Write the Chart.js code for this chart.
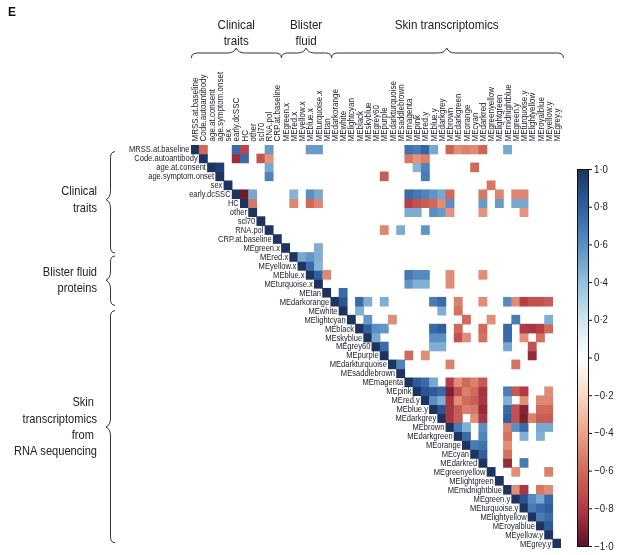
<!DOCTYPE html>
<html>
<head>
<meta charset="utf-8">
<script src="https://cdn.jsdelivr.net/npm/chart.js@4"></script>
<style>
  html, body { margin: 0; padding: 0; background: #fff; }
  #wrap { width: 630px; height: 555px; position: relative; }
</style>
</head>
<body>
<div id="wrap"><canvas id="grafik" width="630" height="555"></canvas></div>
<script>
// nama variabel (baris & kolom)
const varNames = [
    'MRSS.at.baseline', 'Code.autoantibody', 'age.at.consent', 'age.symptom.onset', 'sex',
    'early.dcSSC', 'HC', 'other', 'scl70', 'RNA.pol', 'CRP.at.baseline',
    'MEgreen.x', 'MEred.x', 'MEyellow.x', 'MEblue.x', 'MEturquoise.x',
    'MEtan', 'MEdarkorange', 'MEwhite', 'MElightcyan', 'MEblack', 'MEskyblue', 'MEgrey60',
    'MEpurple', 'MEdarkturquoise', 'MEsaddlebrown', 'MEmagenta', 'MEpink', 'MEred.y',
    'MEblue.y', 'MEdarkgrey', 'MEbrown', 'MEdarkgreen', 'MEorange', 'MEcyan', 'MEdarkred',
    'MEgreenyellow', 'MElightgreen', 'MEmidnightblue', 'MEgreen.y', 'MEturquoise.y',
    'MElightyellow', 'MEroyalblue', 'MEyellow.y', 'MEgrey.y'
];

// kelompok: [label, mulai, akhir, ujung] dalam satuan indeks
const topGroups = [
    ['Clinical\ntraits', 0.05, 11.0, 5.5],
    ['Blister\nfluid', 11.0, 17.1, 14.0],
    ['Skin transcriptomics', 17.1, 45.3, 31.1]
];
const leftGroups = [
    ['Clinical\ntraits', 0.75, 12.05, 6.1],
    ['Blister fluid\nproteins', 12.4, 17.9, 15.1],
    ['Skin \ntranscriptomics\nfrom \nRNA sequencing', 18.5, 44.4, 31.5]
];

const colorbarTicks = [1, 0.8, 0.6, 0.4, 0.2, 0, -0.2, -0.4, -0.6, -0.8, -1];

// sel yang signifikan: [baris, kolom, korelasi]
const sigCells = [
    [0,1,-0.6],[0,5,0.75],[0,6,-0.75],[0,9,0.55],[0,14,0.55],[0,15,0.55],[0,26,0.72],[0,27,0.68],
    [0,28,0.78],[0,29,0.5],[0,31,-0.62],[0,32,-0.47],[0,33,-0.52],[0,34,-0.48],[0,35,-0.62],[0,38,0.5],
    [1,5,-0.85],[1,6,0.75],[1,8,-0.68],[1,9,-0.45],[1,26,-0.55],[1,27,-0.45],[1,28,-0.52],
    [2,3,0.95],[2,9,0.5],[2,27,0.45],[2,28,0.65],[2,34,-0.6],
    [3,9,0.65],[3,23,-0.65],[3,28,0.68],
    [4,36,-0.55],
    [5,6,-0.95],[5,7,0.5],[5,12,0.45],[5,14,0.6],[5,15,0.5],[5,26,0.75],[5,27,0.7],[5,28,0.65],
    [5,29,0.58],[5,30,0.5],[5,31,-0.6],[5,35,-0.55],[5,37,-0.5],[5,39,-0.5],[5,40,-0.5],
    [6,7,-0.55],[6,12,-0.5],[6,14,-0.6],[6,15,-0.5],[6,26,-0.78],[6,27,-0.7],[6,28,-0.65],[6,29,-0.6],
    [6,30,-0.47],[6,31,0.6],[6,35,0.55],[6,37,0.55],[6,39,0.5],[6,40,0.5],
    [7,26,0.48],[7,27,0.48],[7,29,0.6],[7,30,0.55],[7,31,-0.45],[7,35,-0.45],[7,40,-0.45],
    [9,23,-0.5],[9,25,0.48],[9,28,0.58],
    [11,15,0.47],
    [12,13,0.5],[12,14,0.57],[12,15,0.47],
    [13,14,0.75],[13,15,0.45],
    [14,15,0.8],[14,16,-0.5],[14,26,0.7],[14,27,0.62],[14,28,0.62],[14,31,-0.47],[14,35,-0.47],
    [15,26,0.58],[15,27,0.47],[15,28,0.47],[15,31,-0.47],
    [16,18,0.75],
    [17,18,0.85],[17,20,0.75],[17,21,0.47],[17,23,0.47],[17,29,0.68],[17,30,0.75],[17,32,-0.52],
    [17,35,-0.47],[17,38,0.62],[17,39,-0.47],[17,40,-0.78],[17,41,-0.7],[17,42,-0.7],[17,43,-0.65],
    [18,20,0.47],[18,30,0.47],[18,32,-0.57],
    [19,21,0.57],[19,24,-0.47],[19,33,-0.6],[19,36,-0.47],[19,39,0.68],[19,43,0.47],
    [20,21,0.8],[20,22,0.6],[20,23,0.57],[20,29,0.75],[20,30,0.8],[20,32,-0.6],[20,35,-0.6],
    [20,38,0.75],[20,40,-0.8],[20,41,-0.82],[20,42,-0.78],[20,43,-0.6],
    [21,22,0.5],[21,29,0.6],[21,30,0.6],[21,32,-0.7],[21,33,-0.47],[21,35,-0.57],[21,38,0.75],
    [21,40,-0.47],[21,42,-0.57],
    [22,23,0.75],[22,29,0.47],[22,30,0.47],[22,38,0.5],[22,41,-0.7],
    [23,26,-0.6],[23,28,-0.47],[23,41,-0.87],
    [24,25,0.65],[24,31,-0.52],[24,39,-0.57],
    [26,27,0.82],[26,28,0.75],[26,29,0.5],[26,31,-0.78],[26,32,-0.47],[26,33,-0.6],[26,34,-0.52],[26,35,-0.67],
    [27,28,0.85],[27,29,0.82],[27,30,0.75],[27,31,-0.92],[27,32,-0.7],[27,33,-0.52],[27,34,-0.6],
    [27,35,-0.83],[27,38,0.68],[27,39,-0.67],[27,40,-0.8],[27,43,-0.47],
    [28,29,0.6],[28,30,0.47],[28,31,-0.82],[28,32,-0.47],[28,33,-0.6],[28,34,-0.65],[28,35,-0.82],
    [28,38,0.47],[28,40,-0.47],[28,42,-0.5],[28,43,-0.5],
    [29,30,0.85],[29,31,-0.82],[29,32,-0.65],[29,33,-0.52],[29,34,-0.55],[29,35,-0.87],[29,38,0.75],
    [29,39,-0.7],[29,40,-0.9],[29,42,-0.6],[29,43,-0.6],
    [30,31,-0.82],[30,32,-0.65],[30,34,-0.47],[30,35,-0.82],[30,38,0.8],[30,39,-0.7],[30,40,-0.93],
    [30,41,-0.52],[30,42,-0.65],[30,43,-0.65],
    [31,32,0.68],[31,33,0.47],[31,35,0.6],[31,38,-0.52],[31,39,0.6],[31,40,0.75],[31,42,0.5],[31,43,0.5],
    [32,33,0.75],[32,35,0.65],[32,38,-0.57],[32,40,0.47],[32,42,0.47],
    [33,34,0.68],[33,35,0.72],[33,38,-0.47],
    [34,35,0.8],[34,38,-0.57],
    [35,38,-0.87],[35,40,0.68],
    [36,39,-0.47],[36,43,-0.52],
    [38,39,-0.47],[38,40,-0.82],[38,42,-0.55],[38,43,-0.47],
    [39,40,0.85],[39,41,0.62],[39,42,0.5],[39,43,0.75],
    [40,41,0.68],[40,42,0.75],[40,43,0.8],
    [41,42,0.68],[41,43,0.75],
    [42,43,0.82]
];

// skala warna merah-biru
const colorStops = [
    [-1.0, [92, 15, 36]], [-0.8, [177, 58, 70]], [-0.6, [208, 105, 90]], [-0.4, [234, 162, 135]],
    [-0.2, [248, 216, 198]], [0, [255, 255, 255]], [0.2, [211, 229, 240]], [0.4, [148, 192, 220]],
    [0.6, [90, 143, 195]], [0.8, [47, 95, 159]], [1.0, [29, 52, 97]]
];

function warna(v) {
    for (let i = 0; i < colorStops.length - 1; i++) {
        const a = colorStops[i], b = colorStops[i + 1];
        if (v >= a[0] && v <= b[0]) {
            const t = (v - a[0]) / (b[0] - a[0]);
            const c = a[1].map((x, k) => Math.round(x + (b[1][k] - x) * t));
            return 'rgb(' + c.join(',') + ')';
        }
    }
    return v > 0 ? 'rgb(29,52,97)' : 'rgb(92,15,36)';
}

const FONT = '"Liberation Sans", Arial, sans-serif';
const SEMPIT = 0.84; // font dipersempit (mirip condensed)
const n = varNames.length;

// matriks nilai (diagonal = 1)
const matrix = varNames.map(() => Array(n).fill(null));
varNames.forEach((_, i) => { matrix[i][i] = 1; });
sigCells.forEach(([r, c, v]) => { matrix[r][c] = v; });

// satu dataset per baris, bar melayang [r, r+1]
const datasets = matrix.map((row, r) => ({
    label: varNames[r],
    data: row.map(v => v === null ? null : [r, r + 1]),
    backgroundColor: row.map(v => v === null ? 'rgba(0,0,0,0)' : warna(v)),
    borderWidth: 0,
    barPercentage: 1,
    categoryPercentage: 1,
    grouped: false
}));

function tulis(ctx, teks, x, y, sx, rot) {
    ctx.save();
    ctx.translate(x, y);
    if (rot) ctx.rotate(rot);
    ctx.scale(sx, 1);
    ctx.fillText(teks, 0, 0);
    ctx.restore();
}

function gambarKurungAtas(ctx, xa, xb, xm, y0, h) {
    ctx.beginPath();
    ctx.moveTo(xa, y0);
    ctx.quadraticCurveTo(xa, y0 - h, xa + 6, y0 - h);
    ctx.lineTo(xm - 9, y0 - h);
    ctx.quadraticCurveTo(xm - 2, y0 - h, xm, y0 - 2 * h);
    ctx.quadraticCurveTo(xm + 2, y0 - h, xm + 9, y0 - h);
    ctx.lineTo(xb - 6, y0 - h);
    ctx.quadraticCurveTo(xb, y0 - h, xb, y0);
    ctx.stroke();
}

function gambarKurungKiri(ctx, ya, yb, ym, x0, w) {
    ctx.beginPath();
    ctx.moveTo(x0, ya);
    ctx.quadraticCurveTo(x0 - w, ya, x0 - w, ya + 6);
    ctx.lineTo(x0 - w, ym - 9);
    ctx.quadraticCurveTo(x0 - w, ym - 2, x0 - 2 * w, ym);
    ctx.quadraticCurveTo(x0 - w, ym + 2, x0 - w, ym + 9);
    ctx.lineTo(x0 - w, yb - 6);
    ctx.quadraticCurveTo(x0 - w, yb, x0, yb);
    ctx.stroke();
}

const anotasiPlugin = {
    id: 'anotasi',
    afterDraw(chart) {
        const ctx = chart.ctx;
        const xs = chart.scales.x, ys = chart.scales.y;
        const cw = (xs.right - xs.left) / n;
        const colX = i => xs.left + i * cw;
        const rowY = i => ys.getPixelForValue(i);
        ctx.save();
        ctx.fillStyle = '#1c1c2a';

        // label kolom (diputar)
        ctx.font = '9.5px ' + FONT;
        ctx.textAlign = 'left';
        ctx.textBaseline = 'middle';
        varNames.forEach((nm, i) => {
            tulis(ctx, nm, xs.getPixelForValue(i) + 0.5, xs.bottom - 3.5, SEMPIT, -Math.PI / 2);
        });

        // label baris di samping diagonal
        ctx.font = '9px ' + FONT;
        ctx.textAlign = 'right';
        varNames.forEach((nm, i) => {
            tulis(ctx, nm, colX(i) - 1.5, rowY(i + 0.5) + 0.5, SEMPIT);
        });

        // kurung atas
        ctx.strokeStyle = '#333';
        ctx.lineWidth = 1;
        ctx.font = '13.5px ' + FONT;
        ctx.fillStyle = '#222';
        ctx.textAlign = 'center';
        ctx.textBaseline = 'alphabetic';
        topGroups.forEach(([lbl, a, b, m]) => {
            gambarKurungAtas(ctx, colX(a), colX(b), colX(m), 58, 5);
            lbl.split('\n').forEach((ln, k) => tulis(ctx, ln, colX(m), 29 + k * 15.5, 0.86));
        });

        // kurung kiri
        ctx.textAlign = 'right';
        ctx.textBaseline = 'middle';
        leftGroups.forEach(([lbl, a, b, m]) => {
            gambarKurungKiri(ctx, rowY(a), rowY(b), rowY(m), 115, 4.5);
            const lines = lbl.split('\n');
            const y0 = rowY(m) - (lines.length - 1) * 16.4 / 2;
            lines.forEach((ln, k) => tulis(ctx, ln, 97, y0 + k * 16.4, 0.82));
        });

        // colour bar
        const bx = 577, bw = 11, by = 169.5, bh = 377;
        const grad = ctx.createLinearGradient(0, by, 0, by + bh);
        colorStops.forEach(([v]) => grad.addColorStop((1 - v) / 2, warna(v)));
        ctx.fillStyle = grad;
        ctx.fillRect(bx, by, bw, bh);
        ctx.strokeStyle = '#111';
        ctx.strokeRect(bx + 0.5, by, bw, bh);
        ctx.font = '11px ' + FONT;
        ctx.fillStyle = '#222';
        ctx.textAlign = 'left';
        colorbarTicks.forEach(v => {
            const y = by + (1 - v) / 2 * bh;
            ctx.beginPath();
            ctx.moveTo(bx + bw, y);
            ctx.lineTo(bx + bw + 4, y);
            ctx.stroke();
            let s = v === 0 ? '0' : Math.abs(v).toFixed(1).replace('.', '\u00b7');
            if (v < 0) s = '\u2212' + s;
            tulis(ctx, s, bx + bw + 6, y, 0.88);
        });

        // huruf panel
        ctx.font = 'bold 12px ' + FONT;
        ctx.fillStyle = '#111';
        ctx.fillText('E', 8, 13);
        ctx.restore();
    }
};

const ctx = document.getElementById('grafik').getContext('2d');
const grafik = new Chart(ctx, {
    type: 'bar',
    data: { labels: varNames, datasets: datasets },
    options: {
        responsive: false,
        animation: false,
        layout: { padding: { left: 191, right: 69, top: 0, bottom: 7 } },
        plugins: { legend: { display: false }, tooltip: { enabled: false } },
        scales: {
            x: {
                position: 'top',
                grid: { display: false, drawTicks: false },
                border: { display: false },
                ticks: { display: false },
                afterFit(scale) { scale.height = 145; }
            },
            y: {
                display: false,
                reverse: true,
                min: 0,
                max: n
            }
        }
    },
    plugins: [anotasiPlugin]
});
</script>
</body>
</html>
